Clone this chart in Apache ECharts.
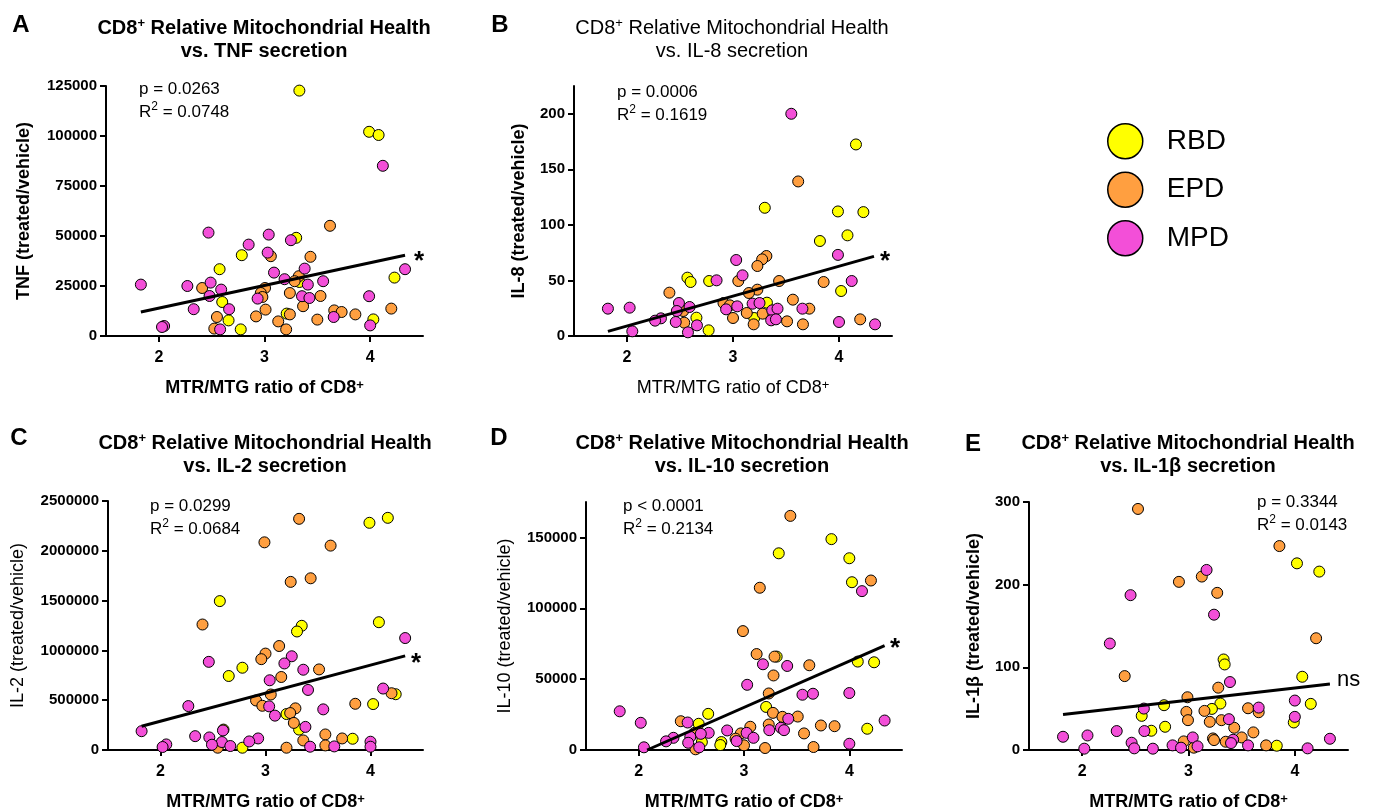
<!DOCTYPE html>
<html>
<head>
<meta charset="utf-8">
<title>CD8+ Relative Mitochondrial Health vs. cytokine secretion</title>
<script src="https://cdn.jsdelivr.net/npm/echarts@6/dist/echarts.min.js"></script>
<style>
  html, body { margin: 0; padding: 0; background: #fff; }
  #chart { width: 1374px; height: 812px; }
</style>
</head>
<body>
<div id="chart"></div>
<script>
// x = MTR/MTG ratio of CD8+, y = cytokine (treated/vehicle)
var groups = ['RBD', 'EPD', 'MPD']
var colors = ['#ffff00', '#ff9f40', '#f34fd8']
var xTicks = [2, 3, 4]

// A: TNF
var tnfTicks = [0, 25000, 50000, 75000, 100000, 125000]
var tnfRBD = [[3.33,122700],[3.99,102100],[4.08,100500],[3.30,49100],[2.785,40400],[2.575,33400],[4.23,29200],[3.33,27000],[2.60,17000],[3.21,11200],[2.66,7800],[2.775,3300],[4.03,8300]]
var tnfEPD = [[3.62,55100],[3.435,39600],[3.06,39900],[3.325,29900],[3.285,27400],[2.41,24000],[3.005,24000],[2.965,21500],[2.98,19500],[3.24,21500],[3.53,20000],[3.365,14900],[3.01,13200],[2.55,9500],[2.92,9800],[3.24,10800],[3.66,12800],[3.73,12000],[3.86,10800],[4.20,13700],[3.13,7300],[3.50,8200],[2.525,3700],[3.205,3300]]
var tnfMPD = [[4.12,85100],[2.47,51700],[3.04,50700],[3.25,47900],[2.85,45700],[3.03,41700],[4.33,33400],[3.38,33700],[3.09,31700],[3.19,28400],[3.555,27400],[2.49,26700],[1.83,25700],[2.27,25000],[3.41,25700],[2.59,23200],[2.48,20000],[3.355,19900],[3.99,19900],[2.935,18700],[3.425,19000],[2.33,13400],[2.665,13400],[3.655,9500],[2.05,5000],[2.03,4500],[2.58,3300],[4.0,5300]]
var tnfFit = [[1.83,12000],[4.33,40400]]

// B: IL-8
var il8Ticks = [0, 50, 100, 150, 200]
var il8RBD = [[4.16,172.4],[3.30,115.4],[3.99,112.1],[4.23,111.5],[3.82,85.5],[4.08,90.6],[2.57,52.5],[2.60,48.6],[2.775,49.5],[4.02,40.5],[3.32,30.0],[2.655,16.5],[3.20,16.2],[2.77,5.1]]
var il8EPD = [[3.615,139.1],[3.315,72],[3.275,69],[3.23,63],[3.435,49.5],[3.05,49.5],[3.855,48.6],[3.23,41.7],[3.15,38.7],[2.40,39],[3.565,32.7],[2.91,29.7],[2.97,27.6],[3.72,24.6],[3.13,20.7],[3.28,20.1],[2.53,22.5],[3.0,16.2],[2.54,12],[3.51,13.2],[3.66,10.5],[4.20,15],[3.195,10.5]]
var il8MPD = [[3.55,200],[3.99,73],[3.03,68.4],[3.09,54.6],[2.845,50.1],[4.12,49.5],[1.82,24.6],[2.025,25.5],[2.49,29.7],[2.59,26.1],[2.47,22.5],[2.32,15.9],[2.265,13.8],[2.46,12.6],[2.66,9.6],[2.575,3.3],[2.05,4.2],[2.935,24],[3.04,26.7],[3.185,29.1],[3.25,29.7],[3.37,23.1],[3.42,24.6],[3.36,14.1],[3.405,15],[3.655,24.6],[4.0,12.6],[4.34,10.5]]
var il8Fit = [[1.82,4.2],[4.33,71.7]]

// C: IL-2
var il2Ticks = [0, 500000, 1000000, 1500000, 2000000, 2500000]
var il2RBD = [[4.165,2331000],[3.99,2281000],[2.565,1495000],[4.08,1283000],[3.345,1247000],[3.30,1190000],[2.78,826000],[2.65,743000],[4.025,461000],[4.24,560000],[3.20,361000],[3.32,205000],[2.60,205000],[3.83,113000],[2.78,23000]]
var il2EPD = [[3.32,2321000],[2.99,2085000],[3.62,2052000],[3.43,1724000],[3.24,1688000],[2.40,1260000],[3.13,1044000],[3.0,968000],[2.96,912000],[3.51,809000],[3.15,733000],[3.05,557000],[4.20,570000],[2.91,497000],[2.97,444000],[3.285,418000],[3.235,371000],[3.855,464000],[3.27,272000],[3.57,156000],[3.73,116000],[3.36,96000],[3.57,46000],[3.20,23000],[2.545,23000]]
var il2MPD = [[4.33,1124000],[2.46,885000],[3.25,941000],[3.18,869000],[3.36,806000],[3.04,700000],[3.405,603000],[4.12,617000],[2.265,441000],[3.035,438000],[3.09,345000],[3.55,408000],[3.38,232000],[1.82,189000],[2.595,196000],[2.33,139000],[2.465,126000],[2.93,116000],[2.845,86000],[2.585,80000],[2.49,53000],[2.055,56000],[2.02,30000],[2.665,40000],[3.425,33000],[3.655,36000],[4.0,83000],[4.0,33000]]
var il2Fit = [[1.82,239000],[4.33,945000]]

// D: IL-10
var il10Ticks = [0, 50000, 100000, 150000]
var il10RBD = [[3.83,148800],[3.33,138800],[4.0,135300],[4.025,118400],[3.31,65900],[4.08,62400],[4.235,61900],[3.21,30400],[2.66,25500],[2.57,18500],[4.17,15000],[2.60,5600],[2.785,5600],[2.775,3500]]
var il10EPD = [[3.44,165200],[3.15,114500],[4.205,119600],[2.99,83900],[3.12,67700],[3.29,65900],[3.62,59800],[3.28,52600],[3.235,39900],[3.275,26200],[3.365,23400],[3.51,23600],[2.40,20300],[3.235,18000],[3.73,17300],[3.86,16800],[3.57,11700],[3.06,16400],[2.97,11700],[2.92,8000],[2.53,12100],[3.0,3300],[3.20,1400],[3.66,2100],[2.54,500]]
var il10MPD = [[4.12,112100],[3.18,60500],[3.41,59300],[3.03,46000],[3.555,39000],[3.655,39700],[4.0,40200],[1.82,27300],[2.02,19200],[2.465,19400],[3.42,22000],[4.335,20800],[2.84,13800],[3.24,14000],[3.35,15700],[3.38,14000],[2.665,12100],[2.59,11400],[3.025,12100],[2.33,8600],[2.26,6100],[2.49,9300],[2.47,5100],[3.09,8600],[2.93,6300],[2.05,1900],[2.575,1900],[4.0,4400]]
var il10Fit = [[2.08,0],[4.335,73600]]

// E: IL-1b
var il1bTicks = [0, 100, 200, 300]
var il1bRBD = [[4.02,225.8],[4.23,215.8],[3.33,109.5],[3.34,103.5],[4.07,88.6],[3.30,56.2],[4.15,55.8],[2.77,54.2],[3.22,49.7],[2.56,41.3],[2.78,28.1],[2.65,23.3],[3.99,33.3],[3.83,5.2]]
var il1bEPD = [[2.525,291.6],[3.855,246.7],[2.91,203.4],[3.125,209.8],[3.27,190.1],[4.20,135.2],[2.40,89.4],[3.28,75.4],[2.99,63.8],[3.56,50.5],[3.66,45.7],[3.15,47.3],[2.98,46.1],[2.995,36.1],[3.20,34.1],[3.31,36.1],[3.43,26.9],[3.61,21.3],[3.50,15.2],[3.23,14],[3.24,12],[3.35,10],[2.955,10.4],[3.05,2.8],[3.73,5.6]]
var il1bMPD = [[3.17,217.8],[2.455,187.3],[3.24,163.7],[2.26,128.8],[3.39,82.2],[4.0,59.8],[3.66,51.3],[2.58,50.1],[4.0,40.1],[3.38,37.3],[1.82,16],[2.05,17.6],[2.325,22.9],[2.585,22.9],[3.04,15.2],[3.42,12.4],[4.33,13.6],[2.465,8.8],[2.85,5.6],[3.40,8.4],[3.56,5.6],[2.02,1.6],[2.49,2],[2.665,1.6],[2.93,2.8],[3.085,4.4],[4.12,2]]
var il1bFit = [[1.82,42.9],[4.33,79.8]]

var FONT = '"Liberation Sans", Arial, sans-serif'

var panels = [
  { letter: 'A', sub: 'vs. TNF secretion', yName: 'TNF (treated/vehicle)', p: 'p = 0.0263', r2: '0.0748', mark: '*',
    data: [tnfRBD, tnfEPD, tnfMPD], fit: tnfFit, ticks: tnfTicks, yMax: 125000,
    grid: [106, 86, 317, 250], yGap: 73, yBold: true, xBold: true, tBold: true,
    titleAt: [264, 40], letterAt: [21, 25], statsAt: [139, 78], markAt: [419, 262] },
  { letter: 'B', sub: 'vs. IL-8 secretion', yName: 'IL-8 (treated/vehicle)', p: 'p = 0.0006', r2: '0.1619', mark: '*',
    data: [il8RBD, il8EPD, il8MPD], fit: il8Fit, ticks: il8Ticks, yMax: 225,
    grid: [574, 86, 318, 250], yGap: 46, yBold: true, xBold: false, tBold: false,
    titleAt: [732, 40], letterAt: [500, 25], statsAt: [617, 81], markAt: [885, 262] },
  { letter: 'C', sub: 'vs. IL-2 secretion', yName: 'IL-2 (treated/vehicle)', p: 'p = 0.0299', r2: '0.0684', mark: '*',
    data: [il2RBD, il2EPD, il2MPD], fit: il2Fit, ticks: il2Ticks, yMax: 2500000,
    grid: [108, 501, 315, 251], yGap: 81, yBold: false, xBold: true, tBold: true,
    titleAt: [265, 455], letterAt: [19, 438], statsAt: [150, 495], markAt: [416, 664] },
  { letter: 'D', sub: 'vs. IL-10 secretion', yName: 'IL-10 (treated/vehicle)', p: 'p < 0.0001', r2: '0.2134', mark: '*',
    data: [il10RBD, il10EPD, il10MPD], fit: il10Fit, ticks: il10Ticks, yMax: 175000,
    grid: [586, 502, 316, 250], yGap: 72, yBold: false, xBold: true, tBold: true,
    titleAt: [742, 455], letterAt: [499, 438], statsAt: [623, 495], markAt: [895, 649] },
  { letter: 'E', sub: 'vs. IL-1\u03b2 secretion', yName: 'IL-1\u03b2 (treated/vehicle)', p: 'p = 0.3344', r2: '0.0143', mark: 'ns',
    data: [il1bRBD, il1bEPD, il1bMPD], fit: il1bFit, ticks: il1bTicks, yMax: 300,
    grid: [1029, 502, 319, 250], yGap: 46, yBold: true, xBold: true, tBold: true,
    titleAt: [1188, 455], letterAt: [973, 444], statsAt: [1257, 491], markAt: [1337, 680] }
]

var grids = [], xAxes = [], yAxes = [], series = [], graphics = []

panels.forEach(function (pn, i) {
  grids.push({ left: pn.grid[0], top: pn.grid[1], width: pn.grid[2], height: pn.grid[3] })

  var xw = pn.xBold ? 'bold' : 'normal'
  xAxes.push({
    type: 'value', gridIndex: i, min: 1.5, max: 4.5,
    name: 'MTR/MTG ratio of CD8{sup|+}', nameLocation: 'middle', nameGap: 43,
    nameTextStyle: { fontSize: 18, fontWeight: xw, color: '#000', fontFamily: FONT,
      rich: { sup: { fontSize: 13, fontWeight: xw, color: '#000', fontFamily: FONT, verticalAlign: 'top' } } },
    axisLine: { lineStyle: { color: '#000', width: 2 } },
    axisTick: { customValues: xTicks, length: 6, lineStyle: { color: '#000', width: 2 } },
    axisLabel: { customValues: xTicks, fontSize: 16, fontWeight: 'bold', color: '#000', fontFamily: FONT, margin: 14 },
    splitLine: { show: false }
  })

  yAxes.push({
    type: 'value', gridIndex: i, min: 0, max: pn.yMax,
    name: pn.yName, nameLocation: 'middle', nameGap: pn.yGap, nameRotate: 90,
    nameTextStyle: { fontSize: 18, fontWeight: pn.yBold ? 'bold' : 'normal', color: '#000', fontFamily: FONT },
    axisLine: { show: true, lineStyle: { color: '#000', width: 2 } },
    axisTick: { show: true, customValues: pn.ticks, length: 6, lineStyle: { color: '#000', width: 2 } },
    axisLabel: { customValues: pn.ticks, fontSize: 15, fontWeight: 'bold', color: '#000', fontFamily: FONT, margin: 9,
      formatter: function (v) { return String(v) } },
    splitLine: { show: false }
  })

  pn.data.forEach(function (pts, g) {
    series.push({
      type: 'scatter', name: groups[g], xAxisIndex: i, yAxisIndex: i,
      data: pts, symbol: 'circle', symbolSize: 11,
      itemStyle: { color: colors[g], borderColor: '#000', borderWidth: 1, opacity: 1 },
      emphasis: { disabled: true }
    })
  })
  series.push({
    type: 'line', xAxisIndex: i, yAxisIndex: i, data: pn.fit, symbol: 'none', silent: true, z: 5,
    lineStyle: { color: '#000', width: 3 }
  })

  var tw = pn.tBold ? 'bold' : 'normal'
  graphics.push({
    type: 'text', silent: true,
    style: { text: 'CD8{sup|+} Relative Mitochondrial Health\n' + pn.sub, x: pn.titleAt[0], y: pn.titleAt[1],
      align: 'center', verticalAlign: 'middle', fontSize: 20, fontWeight: tw, fontFamily: FONT, lineHeight: 23, fill: '#000',
      rich: { sup: { fontSize: 13, fontWeight: tw, fontFamily: FONT, fill: '#000', verticalAlign: 'top', lineHeight: 23 } } }
  })
  graphics.push({
    type: 'text', silent: true,
    style: { text: pn.letter, x: pn.letterAt[0], y: pn.letterAt[1], align: 'center', verticalAlign: 'middle',
      fontSize: 24, fontWeight: 'bold', fontFamily: FONT, fill: '#000' }
  })
  graphics.push({
    type: 'text', silent: true,
    style: { text: pn.p + '\nR{sup|2} = ' + pn.r2, x: pn.statsAt[0], y: pn.statsAt[1], align: 'left', verticalAlign: 'top',
      fontSize: 17, fontFamily: FONT, lineHeight: 23, fill: '#000',
      rich: { sup: { fontSize: 12, fontFamily: FONT, fill: '#000', verticalAlign: 'top', lineHeight: 23 } } }
  })
  var isNs = pn.mark === 'ns'
  graphics.push({
    type: 'text', silent: true,
    style: { text: pn.mark, x: pn.markAt[0], y: pn.markAt[1], align: isNs ? 'left' : 'center', verticalAlign: 'middle',
      fontSize: isNs ? 22 : 26, fontWeight: isNs ? 'normal' : 'bold', fontFamily: FONT, fill: '#000' }
  })
})

var chart = echarts.init(document.getElementById('chart'))
chart.setOption({
  animation: false,
  backgroundColor: '#fff',
  legend: {
    data: groups, orient: 'vertical', left: 1107, top: 123, padding: 0,
    itemWidth: 35, itemHeight: 35, itemGap: 12, icon: 'circle',
    itemStyle: { borderColor: '#000', borderWidth: 1.5 },
    textStyle: { fontSize: 28, color: '#000', fontFamily: FONT, padding: [0, 0, 0, 19] }
  },
  grid: grids,
  xAxis: xAxes,
  yAxis: yAxes,
  series: series,
  graphic: graphics
})
</script>
</body>
</html>
